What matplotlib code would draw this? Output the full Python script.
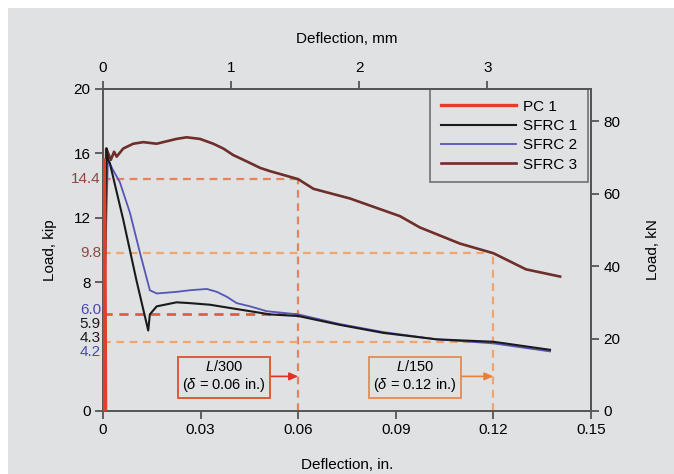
import matplotlib
matplotlib.use("Agg")
from matplotlib import pyplot as plt
from matplotlib.patches import Rectangle

plt.rcParams["font.family"] = ["Liberation Sans", "DejaVu Sans"]
plt.rcParams["font.size"] = 11
plt.rcParams["mathtext.fontset"] = "custom"
plt.rcParams["mathtext.rm"] = "Liberation Sans"
plt.rcParams["mathtext.it"] = "Liberation Sans:italic"

KIP_TO_KN = 4.448
IN_TO_MM = 25.4

# load-deflection curves (deflection in in., load in kip)
pc1_x = [0, 0.0004, 0.0006, 0.0008]
pc1_y = [0, 15.6, 11.0, 0]

sfrc1_x = [0, 0.0005, 0.0011, 0.0016, 0.0021, 0.0062, 0.0103, 0.0139, 0.0144, 0.0165,
           0.0226, 0.0267, 0.0329, 0.039, 0.0452, 0.0513, 0.06, 0.0728, 0.0862, 0.1026,
           0.12, 0.1374]
sfrc1_y = [0, 8.0, 16.3, 15.6, 15.4, 11.9, 8.1, 5.0, 6.0, 6.5,
           6.75, 6.7, 6.6, 6.4, 6.2, 6.0, 5.9, 5.35, 4.85, 4.45,
           4.3, 3.8]

sfrc2_x = [0, 0.0005, 0.0015, 0.003, 0.0052, 0.0083, 0.0114, 0.0144, 0.0165, 0.0226,
           0.0267, 0.0319, 0.035, 0.038, 0.0411, 0.0452, 0.0503, 0.06, 0.0728, 0.0862,
           0.1026, 0.12, 0.1374]
sfrc2_y = [0, 8.0, 15.6, 15.0, 14.2, 12.3, 9.8, 7.5, 7.3, 7.4,
           7.5, 7.58, 7.4, 7.1, 6.7, 6.5, 6.2, 6.0, 5.4, 4.9,
           4.45, 4.2, 3.7]

sfrc3_x = [0, 0.0005, 0.001, 0.0024, 0.0034, 0.0042, 0.0062, 0.0093, 0.0124, 0.0165,
           0.0185, 0.0226, 0.0257, 0.0298, 0.0339, 0.037, 0.040, 0.0442, 0.0483, 0.0513,
           0.06, 0.0647, 0.0759, 0.0913, 0.0974, 0.1097, 0.12, 0.127, 0.130, 0.1405]
sfrc3_y = [0, 8.0, 16.3, 15.6, 16.1, 15.8, 16.3, 16.6, 16.7, 16.6,
           16.7, 16.9, 17.0, 16.9, 16.6, 16.3, 15.9, 15.5, 15.1, 14.9,
           14.4, 13.8, 13.2, 12.1, 11.4, 10.4, 9.8, 9.1, 8.8, 8.35]

# serviceability checks
limit_defl = [0.06, 0.12]
limit_names = ["L/300", "L/150"]
sfrc3_at_limit = [14.4, 9.8]
sfrc2_at_limit = [6.0, 4.2]
sfrc1_at_limit = [5.9, 4.3]

bg = "#e0e1e3"
spine = "#555555"
c_red = "#e05a36"
c_salmon = "#e8825c"
c_orange = "#f0a46e"
c_brown_lbl = "#8a4a40"
c_blue_lbl = "#4a4ab4"
dash = (0, (3.5, 2.5))

fig = plt.figure(figsize=(6.74, 4.74), dpi=100)
fig.patch.set_facecolor("white")
fig.patches.append(Rectangle((8 / 674, 0), 1, 1 - 8 / 474, transform=fig.transFigure,
                             facecolor=bg, edgecolor="none", zorder=-10))
ax = fig.add_axes([103 / 674, 63 / 474, 488 / 674, 322 / 474])
ax.set_facecolor("none")

# dashed guide lines
ax.plot([0, limit_defl[0]], [sfrc3_at_limit[0]] * 2, ls=dash, lw=1.6, color=c_salmon, zorder=1)
ax.plot([limit_defl[0]] * 2, [0, sfrc3_at_limit[0]], ls=dash, lw=1.6, color=c_salmon, zorder=1)
ax.plot([0, limit_defl[0]], [sfrc2_at_limit[0]] * 2, ls=dash, lw=1.9, color=c_red, zorder=1)
ax.plot([0, limit_defl[1]], [sfrc3_at_limit[1]] * 2, ls=dash, lw=1.6, color=c_orange, zorder=1)
ax.plot([limit_defl[1]] * 2, [0, sfrc3_at_limit[1]], ls=dash, lw=1.6, color=c_orange, zorder=1)
ax.plot([0, limit_defl[1]], [sfrc1_at_limit[1]] * 2, ls=dash, lw=1.6, color=c_orange, zorder=1)

l_pc1, = ax.plot(pc1_x, pc1_y, color="#e0402a", lw=2.4, zorder=5, label="PC 1")
l_s1, = ax.plot(sfrc1_x, sfrc1_y, color="#1a1a1a", lw=1.5, zorder=3, label="SFRC 1")
l_s2, = ax.plot(sfrc2_x, sfrc2_y, color="#5555b8", lw=1.3, zorder=2, label="SFRC 2")
l_s3, = ax.plot(sfrc3_x, sfrc3_y, color="#6e2e2a", lw=1.9, zorder=2, label="SFRC 3")

ax.set_xlim(0, 0.15)
ax.set_ylim(0, 20)
ax.set_xticks([0, 0.03, 0.06, 0.09, 0.12, 0.15])
ax.set_xticklabels(["0", "0.03", "0.06", "0.09", "0.12", "0.15"])
ax.set_yticks([0, 8, 12, 16, 20])
ax.set_xlabel("Deflection, in.", labelpad=15)
ax.set_ylabel("Load, kip", labelpad=12)

for s in ax.spines.values():
    s.set_color(spine)
    s.set_linewidth(1.4)
ax.tick_params(direction="out", length=6, width=1.3, color=spine, labelsize=11, pad=3)

# values read at the limit deflections, next to the load axis
left_labels = [
    (sfrc3_at_limit[0], "14.4", c_brown_lbl, 0),
    (sfrc3_at_limit[1], "9.8", c_brown_lbl, 0),
    (sfrc2_at_limit[0], "6.0", c_blue_lbl, 3),
    (sfrc1_at_limit[0], "5.9", "#1a1a1a", -5.5),
    (sfrc1_at_limit[1], "4.3", "#1a1a1a", 2.5),
    (sfrc2_at_limit[1], "4.2", c_blue_lbl, -6.5),
]
for val, txt, col, dy in left_labels:
    ax.annotate(txt, xy=(0, val), xytext=(-1.5, dy), textcoords="offset points",
                ha="right", va="center", color=col, fontsize=11, annotation_clip=False)

# limit boxes with arrows to the dashed verticals
box_x = [0.0372, 0.0959]
box_edge = [c_red, "#e8905a"]
head_col = ["#e0302a", "#e8803a"]
for xd, name, bx, ec, hc in zip(limit_defl, limit_names, box_x, box_edge, head_col):
    label = r"$L$/" + name.split("/")[1] + "\n" + r"($\delta$ = " + f"{xd:.2f} in.)"
    ax.annotate(label, xy=(xd, 2.15), xytext=(bx, 2.15), ha="center", va="center",
                fontsize=10.5, linespacing=1.1,
                bbox=dict(boxstyle="square,pad=0.3", fc="none", ec=ec, lw=1.4),
                arrowprops=dict(arrowstyle="-|>,head_length=0.5,head_width=0.22", color=hc,
                                lw=1.2, shrinkA=0, shrinkB=0))

top = ax.secondary_xaxis("top", functions=(lambda x: x * IN_TO_MM, lambda x: x / IN_TO_MM))
top.set_xticks([0, 1, 2, 3])
top.set_xlabel("Deflection, mm", labelpad=13)
top.tick_params(direction="out", length=6, width=1.3, color=spine, labelsize=11, pad=4)
top.spines["top"].set_color(spine)
top.spines["top"].set_linewidth(1.4)

right = ax.secondary_yaxis("right", functions=(lambda y: y * KIP_TO_KN, lambda y: y / KIP_TO_KN))
right.set_yticks([0, 20, 40, 60, 80])
right.set_ylabel("Load, kN", labelpad=18)
right.tick_params(direction="out", length=6, width=1.3, color=spine, labelsize=11, pad=3)
right.spines["right"].set_color(spine)
right.spines["right"].set_linewidth(1.4)

leg = ax.legend(handles=[l_pc1, l_s1, l_s2, l_s3], loc="upper right",
                bbox_to_anchor=(0.994, 1.0), borderaxespad=0, fancybox=False,
                handlelength=4.9, labelspacing=0.35, handletextpad=0.5,
                borderpad=0.7, fontsize=11)
leg.get_frame().set_facecolor("none")
leg.get_frame().set_edgecolor(spine)
leg.get_frame().set_linewidth(1.2)
leg.set_zorder(6)

fig.savefig("out.png", dpi=100)
